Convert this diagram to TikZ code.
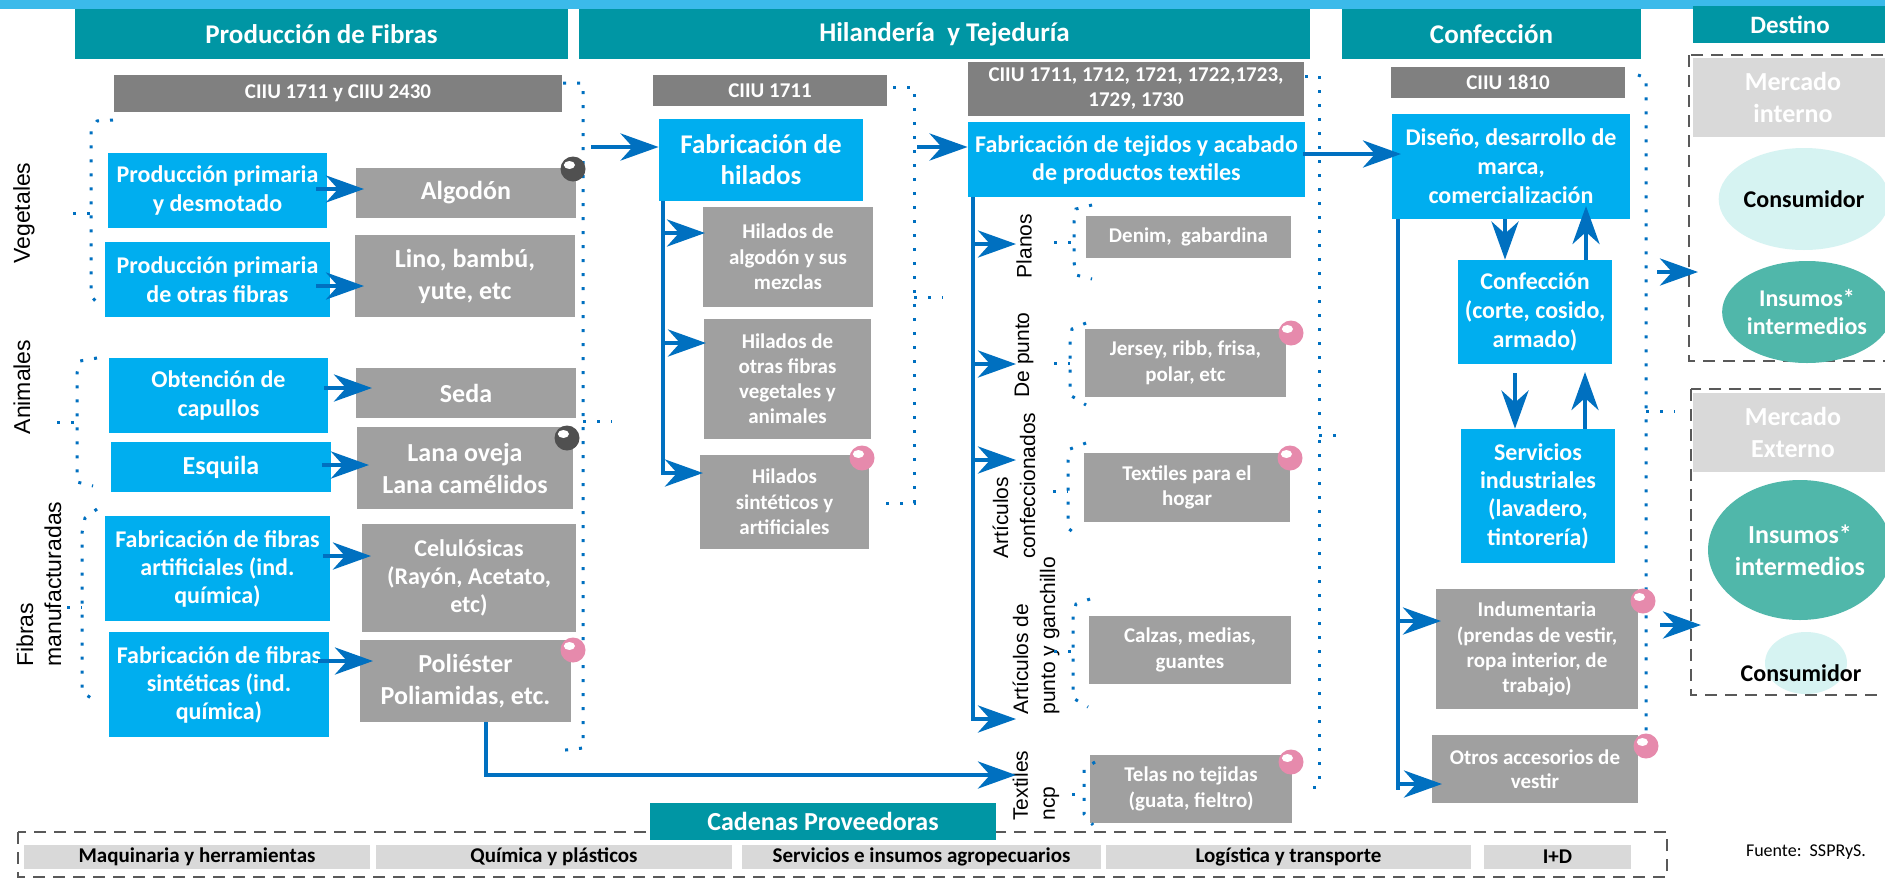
\documentclass[tikz,border=0pt]{standalone}
\usepackage{fontspec}
\setmainfont{Carlito}
\newfontfamily\arialf{Liberation Sans}
\usetikzlibrary{arrows.meta,shapes.geometric}
\definecolor{cBand}{RGB}{59,186,234}
\definecolor{cHead}{RGB}{0,150,164}
\definecolor{cCyan}{RGB}{0,174,239}
\definecolor{cCiiu}{RGB}{128,128,128}
\definecolor{cGray}{RGB}{160,160,160}
\definecolor{cArrow}{RGB}{0,112,192}
\definecolor{cLight}{RGB}{217,217,217}
\definecolor{cPale}{RGB}{214,243,242}
\definecolor{cTealE}{RGB}{80,183,170}
\definecolor{cPink}{RGB}{230,138,172}
\definecolor{cDark}{RGB}{80,80,80}
\definecolor{cDash}{RGB}{89,89,89}
\newcommand{\fs}[2]{\fontsize{#1}{#2}\selectfont}
\newcommand{\bx}[7]{\node[#1, minimum width={(#5-#3)*0.5pt}, minimum height={(#6-#4)*0.5pt}] (#2) at ({(#3+#5)/2},{(#4+#6)/2}) {#7};}
\begin{document}
\begin{tikzpicture}[x=0.5pt,y=-0.5pt,
  base/.style={inner sep=0pt, align=center, text=white},
  head/.style={base, fill=cHead, font=\bfseries\fs{13.5}{16}},
  ciiu/.style={base, fill=cCiiu, font=\bfseries\fs{10.5}{12.5}},
  cb/.style={base, fill=cCyan},
  gb/.style={base, fill=cGray},
  lb/.style={base, fill=cLight},
  fA/.style={font=\bfseries\fs{12}{14.5}},
  fB/.style={font=\bfseries\fs{13}{16}},
  fC/.style={font=\bfseries\fs{10.5}{12.8}},
  rot/.style={rotate=90, inner sep=0pt, align=left, font=\arialf\fs{11.5}{14}},
  rotm/.style={rotate=90, inner sep=0pt, align=left, font=\arialf\fs{10.5}{13.5}},
  arr/.style={draw=cArrow, line width=2.3pt, -{Stealth[length=19pt,width=13.5pt,inset=6pt]}},
  bl/.style={draw=cArrow, line width=2.3pt},
  dotl/.style={draw=cArrow, line width=1.5pt, dash pattern=on 1.5pt off 5.5pt},
  dbox/.style={draw=cDash, line width=1.2pt, dash pattern=on 6pt off 4pt},
  ballp/.style={circle, fill=cPink, minimum size=12.5pt, inner sep=0pt,
    path picture={\fill[white] ([xshift=-1.8pt,yshift=2pt]path picture bounding box.center) ellipse (2.8pt and 2pt);}},
  balld/.style={ballp, fill=cDark},
  bar/.style={base, fill=cLight, text=black, font=\bfseries\fs{10.5}{12}}
]
\useasboundingbox (0,0) rectangle (1885,879);
\clip (0,0) rectangle (1885,879);
\fill[white] (0,0) rectangle (1885,879);
% top band
\fill[cBand] (0,0) rectangle (1885,9);
% headers
\bx{head}{h1}{75}{9}{568}{59}{Producción de Fibras}
\bx{head}{h2}{579}{9}{1310}{59}{Hilandería\ \ y Tejeduría}
\bx{head}{h3}{1342}{9}{1641}{59}{Confección}
\bx{head,font=\bfseries\fs{12.5}{15}}{h4}{1693}{6}{1887}{43}{Destino}
% CIIU
\bx{ciiu}{c1}{114}{75}{562}{112}{CIIU 1711 y CIIU 2430}
\bx{ciiu}{c2}{653}{75}{887}{106}{CIIU 1711}
\bx{ciiu}{c3}{968}{62}{1304}{116}{CIIU 1711, 1712, 1721, 1722,1723,\\1729, 1730}
\bx{ciiu}{c4}{1391}{67}{1625}{98}{CIIU 1810}
% rotated side labels
\node[rot] (lveg) at (24,213) {Vegetales};
\node[rot] (lani) at (22,387) {Animales};
\node[rot, anchor=west] (lfib) at (39,667) {Fibras\\manufacturadas};
% dotted brackets left
\draw[dotl] (113,120) -- (97,121) -- (91,131) -- (91,296) -- (100,306);
\draw[dotl] (73,213) -- (91,213);
\draw[dotl] (97,358) -- (80,361) -- (77,373) -- (77,482) -- (93,486);
\draw[dotl] (57,422) -- (77,422);
\draw[dotl] (97,509) -- (85,518) -- (82,533) -- (82,692) -- (97,702);
\draw[dotl] (67,607) -- (82,607);
% fibre boxes
\bx{cb,fA}{p1}{108}{153}{327}{228}{Producción primaria\\y desmotado}
\bx{cb,fA}{p2}{105}{242}{330}{317}{Producción primaria\\de otras fibras}
\bx{cb,fA}{p3}{109}{358}{328}{433}{Obtención de\\capullos}
\bx{cb,fB}{p4}{111}{442}{331}{492}{Esquila}
\bx{cb,font=\bfseries\fs{12}{14}}{p5}{105}{516}{330}{621}{Fabricación de fibras\\artificiales (ind.\\química)}
\bx{cb,font=\bfseries\fs{12}{14}}{p6}{109}{632}{329}{737}{Fabricación de fibras\\sintéticas (ind.\\química)}
\bx{gb,fB}{g1}{356}{168}{576}{218}{Algodón}
\bx{gb,fB}{g2}{355}{235}{575}{317}{Lino, bambú,\\yute, etc}
\bx{gb,fB}{g3}{356}{368}{576}{418}{Seda}
\bx{gb,fB}{g4}{357}{427}{573}{509}{Lana oveja\\Lana camélidos}
\bx{gb,font=\bfseries\fs{12}{14}}{g5}{362}{524}{576}{632}{Celulósicas\\(Rayón, Acetato,\\etc)}
\bx{gb,fB}{g6}{360}{640}{571}{722}{Poliéster\\Poliamidas, etc.}
% hilados
\bx{cb,font=\bfseries\fs{13.5}{15.5}}{fh}{659}{119}{863}{201}{Fabricación de\\hilados}
\bx{gb,fC}{ha}{703}{207}{873}{307}{Hilados de\\algodón y sus\\mezclas}
\bx{gb,font=\bfseries\fs{10.5}{12.5}}{hb}{704}{319}{871}{439}{Hilados de\\otras fibras\\vegetales y\\animales}
\bx{gb,fC}{hc}{700}{455}{869}{549}{Hilados\\sintéticos y\\artificiales}
% tejidos
\bx{cb,font=\bfseries\fs{12}{14}}{ft}{968}{122}{1305}{197}{Fabricación de tejidos y acabado\\de productos textiles}
\bx{gb,fC}{t1}{1086}{216}{1291}{258}{Denim,\ \ gabardina}
\bx{gb,fC}{t2}{1085}{329}{1286}{397}{Jersey, ribb, frisa,\\polar, etc}
\bx{gb,fC}{t3}{1084}{453}{1290}{522}{Textiles para el\\hogar}
\bx{gb,fC}{t4}{1089}{616}{1291}{684}{Calzas, medias,\\guantes}
\bx{gb,fC}{t5}{1090}{755}{1292}{823}{Telas no tejidas\\(guata, fieltro)}
\node[rotm] (lpla) at (1024,246) {Planos};
\node[rotm] (ldep) at (1024,355) {De punto};
\node[rotm, anchor=west] (lart) at (1014,559) {Artículos\\confeccionados};
\node[rotm, anchor=west] (lpun) at (1036,715) {Artículos de\\punto y ganchillo};
\node[rotm, anchor=west] (ltex) at (1036,821) {Textiles\\ncp};
% confeccion
\bx{cb,fA}{ds}{1392}{114}{1630}{219}{Diseño, desarrollo de\\marca,\\comercialización}
\bx{cb,fA}{cf}{1458}{260}{1612}{364}{Confección\\(corte, cosido,\\armado)}
\bx{cb,font=\bfseries\fs{12}{14.2}}{sv}{1461}{429}{1615}{563}{Servicios\\industriales\\(lavadero,\\tintorería)}
\bx{gb,font=\bfseries\fs{10.5}{12.6}}{ind}{1436}{589}{1638}{709}{Indumentaria\\(prendas de vestir,\\ropa interior, de\\trabajo)}
\bx{gb,font=\bfseries\fs{10.5}{12.2}}{ot}{1432}{735}{1638}{803}{Otros accesorios de\\vestir}
% destino
\draw[dbox] (1689,55) rectangle (1900,361);
\bx{lb,fB}{m1}{1693}{58}{1893}{137}{Mercado\\interno}
\node[ellipse, fill=cPale, minimum width=68pt, minimum height=51pt, inner sep=0pt, text=black, font=\bfseries\fs{12}{14}] (e1) at (1804,199) {Consumidor};
\node[ellipse, fill=cTealE, minimum width=68pt, minimum height=51pt, inner sep=0pt, text=white, align=center, font=\bfseries\fs{12}{14}] (e2) at (1807,312) {Insumos*\\intermedios};
\draw[dbox] (1691,389) rectangle (1900,695);
\bx{lb,fB}{m2}{1693}{393}{1893}{472}{Mercado\\Externo}
\node[ellipse, fill=cTealE, minimum width=83pt, minimum height=70pt, inner sep=0pt, text=white, align=center, font=\bfseries\fs{13}{16}] (e3) at (1800,550) {Insumos*\\intermedios};
\node[ellipse, fill=cPale, minimum width=41pt, minimum height=31pt, inner sep=0pt] (e4) at (1806,663) {};
\node[inner sep=0pt, text=black, font=\bfseries\fs{12}{14}] (e4t) at (1801,673) {Consumidor};
% dotted column brackets
\draw[dotl] (563,83) -- (583,83) -- (583,748) -- (557,751);
\draw[dotl] (583,421) -- (612,421);
\draw[dotl] (893,87) -- (914,87) -- (914,503) -- (886,503);
\draw[dotl] (914,297) -- (943,297);
\draw[dotl] (1305,76) -- (1319,76) -- (1319,787) -- (1307,787);
\draw[dotl] (1319,435) -- (1346,435);
\draw[dotl] (1638,75) -- (1646,78) -- (1646,733);
\draw[dotl] (1646,411) -- (1675,411);
% small brackets tejidos
\draw[dotl] (1092,205) -- (1076,209) -- (1074,222) -- (1074,262) -- (1076,275) -- (1092,279);
\draw[dotl] (1054,242) -- (1074,242);
\draw[dotl] (1086,323) -- (1072,329) -- (1070,340) -- (1070,395) -- (1086,405);
\draw[dotl] (1054,363) -- (1070,363);
\draw[dotl] (1086,443) -- (1070,449) -- (1068,460) -- (1068,528) -- (1080,538);
\draw[dotl] (1053,491) -- (1068,491);
\draw[dotl] (1090,599) -- (1076,604) -- (1073,615) -- (1073,698) -- (1088,707);
\draw[dotl] (1054,651) -- (1073,651);
\draw[dotl] (1095,762) -- (1084,769) -- (1084,814) -- (1093,825);
\draw[dotl] (1072,794) -- (1084,794);
% arrows fibres
\coordinate (a1s) at (316,189); \coordinate (a1e) at (364,189);
\coordinate (a2s) at (316,286); \coordinate (a2e) at (364,286);
\coordinate (a3s) at (324,388); \coordinate (a3e) at (372,388);
\coordinate (a4s) at (322,465); \coordinate (a4e) at (369,465);
\coordinate (a5s) at (323,556); \coordinate (a5e) at (371,556);
\coordinate (a6s) at (318,661); \coordinate (a6e) at (373,661);
\foreach \i in {1,...,6} {\draw[arr] (a\i s) -- (a\i e);}
% to hilados and tejidos
\coordinate (q1) at (591,147);
\draw[arr] (q1) -- (q1 -| fh.west);
\coordinate (q2) at (917,147);
\draw[arr] (q2) -- (q2 -| ft.west);
\coordinate (q3) at (1303,154); \coordinate (q3e) at (1401,154);
\draw[arr] (q3) -- (q3e);
% hilados trunk
\coordinate (hT) at (663,201);
\coordinate (hA) at (663,233); \coordinate (hB) at (663,343);
\draw[arr] (hT) |- (703,473);
\draw[arr] (hA) -- (705,233);
\draw[arr] (hB) -- (706,343);
% tejidos trunk
\coordinate (tT) at (973,197);
\draw[arr] (tT) |- (1016,719);
\coordinate (tA) at (973,244); \coordinate (tB) at (973,364); \coordinate (tC) at (973,460);
\draw[arr] (tA) -- (1016,244);
\draw[arr] (tB) -- (1016,364);
\draw[arr] (tC) -- (1016,460);
% poliester to textiles ncp
\coordinate (pS) at (486,722);
\draw[arr] (pS) |- (1016,775);
% confeccion trunk
\coordinate (dT) at (1398,219);
\draw[bl] (dT) -- (1398,790);
\coordinate (dA) at (1398,621); \coordinate (dB) at (1398,784);
\draw[arr] (dA) -- (1441,621);
\draw[arr] (dB) -- (1442,784);
% confeccion up/down
\draw[arr] (ds.south -| 1505,0) -- (cf.north -| 1505,0);
\draw[arr] (cf.north -| 1586,0) -- (1586,206);
\draw[arr] (1515,373) -- (sv.north -| 1515,0);
\draw[arr] (sv.north -| 1585,0) -- (1585,372);
% to destino
\coordinate (z1) at (1657,272); \coordinate (z2) at (1660,625);
\draw[arr] (z1) -- (1698,272);
\draw[arr] (z2) -- (1701,625);
% balls
\node[balld] (b1) at (573,169) {};
\node[balld] (b2) at (567,438) {};
\node[ballp] (b3) at (573,650) {};
\node[ballp] (b4) at (862,458) {};
\node[ballp] (b5) at (1291,333) {};
\node[ballp] (b6) at (1290,458) {};
\node[ballp] (b7) at (1291,762) {};
\node[ballp] (b8) at (1643,601) {};
\node[ballp] (b9) at (1646,746) {};
% bottom
\draw[dbox] (18,832) rectangle (1667,877);
\bx{head,font=\bfseries\fs{13}{15}}{cad}{650}{803}{996}{840}{Cadenas Proveedoras}
\bx{bar}{r1}{24}{845}{370}{869}{Maquinaria y herramientas}
\bx{bar}{r2}{376}{845}{732}{869}{Química y plásticos}
\bx{bar}{r3}{742}{845}{1101}{869}{Servicios e insumos agropecuarios}
\bx{bar}{r4}{1106}{845}{1471}{869}{Logística y transporte}
\bx{bar}{r5}{1484}{845}{1631}{869}{I+D}
\node[inner sep=0pt, text=black, font=\fs{9}{11}] (src) at (1806,852) {Fuente:\ \ SSPRyS.};
\end{tikzpicture}
\end{document}
